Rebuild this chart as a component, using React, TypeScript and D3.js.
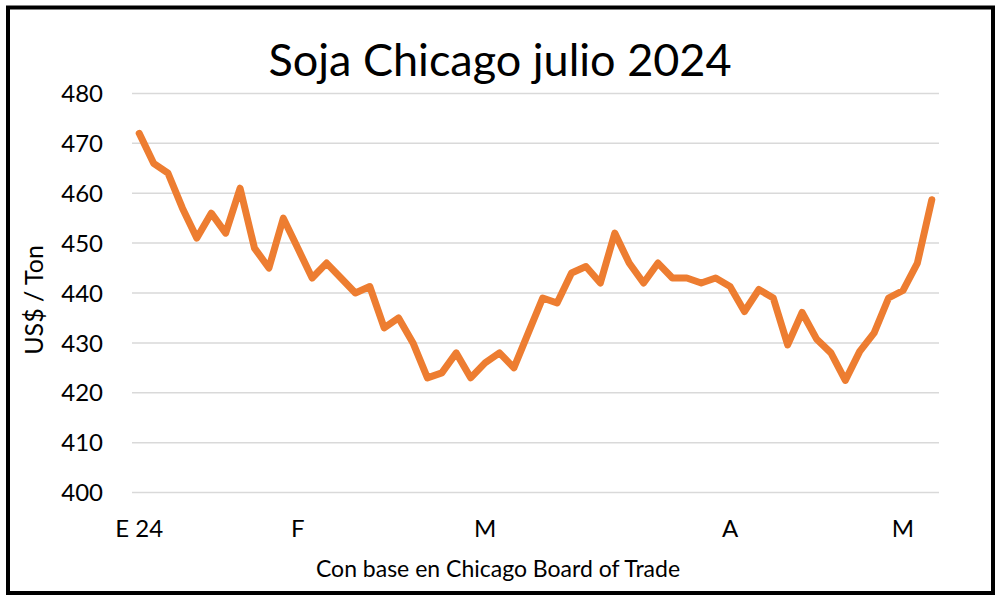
import React from "react";
import * as d3 from "d3";

const prices: number[] = [
  472, 466, 464, 457, 451, 456, 452, 461, 449, 445,
  455, 449, 443, 446, 443, 440, 441.3, 433, 435, 430,
  423, 424, 428, 423, 426, 428, 425, 432, 439, 438,
  444, 445.3, 442, 452, 446, 442, 446, 443, 443, 442,
  443, 441.3, 436.3, 440.7, 439, 429.6, 436.1, 430.8, 428, 422.5,
  428.3, 432, 439, 440.5, 446, 458.7,
];
const monthLabels: string[] = ["E 24", "F", "M", "A", "M"];
const monthIndex: number[] = [0, 11, 24, 41, 53];
const yTicks: number[] = [400, 410, 420, 430, 440, 450, 460, 470, 480];

const W = 1000;
const H = 599;
const FONT = "Lato, 'Open Sans', sans-serif";

export default function App() {
  const idx = prices.map((_, i) => i);
  const x = d3.scalePoint<number>().domain(idx).range([132, 939]).padding(0.5);
  const y = d3.scaleLinear().domain([400, 480]).range([492.6, 93.4]);
  const line = d3
    .line<number>()
    .x((_, i) => x(i) as number)
    .y((d) => y(d));

  return (
    <svg
      width={W}
      height={H}
      style={{ position: "absolute", left: 0, top: 0, background: "#fff" }}
      fontFamily={FONT}
    >
      <rect x={0} y={0} width={W} height={H} fill="#fff" />
      <rect x={8} y={7.5} width={985} height={585.5} fill="none" stroke="#000" strokeWidth={4} />
      <text x={500} y={76} textAnchor="middle" fontSize={45} fill="#000">
        Soja Chicago julio 2024
      </text>
      {yTicks.map((t) => (
        <g key={t}>
          <line x1={132} x2={939} y1={y(t)} y2={y(t)} stroke="#d9d9d9" strokeWidth={1.5} />
          <text x={103} y={y(t)} dy="0.36em" textAnchor="end" fontSize={24} fill="#000">
            {t}
          </text>
        </g>
      ))}
      <text
        transform={`translate(43,300) rotate(-90)`}
        textAnchor="middle"
        fontSize={25}
        fill="#000"
      >
        US$ / Ton
      </text>
      {monthLabels.map((m, k) => (
        <text
          key={k}
          x={x(monthIndex[k]) as number}
          y={537}
          textAnchor="middle"
          fontSize={24}
          fill="#000"
        >
          {m}
        </text>
      ))}
      <text x={498} y={577} textAnchor="middle" fontSize={23} fill="#000">
        Con base en Chicago Board of Trade
      </text>
      <path
        d={line(prices) || ""}
        fill="none"
        stroke="#ED7D31"
        strokeWidth={7}
        strokeLinejoin="round"
        strokeLinecap="round"
      />
    </svg>
  );
}
